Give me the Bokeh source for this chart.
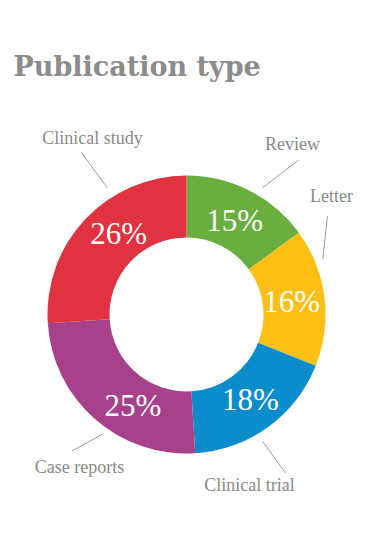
import math
from bokeh.plotting import figure
from bokeh.models import Range1d, ColumnDataSource
from bokeh.core.properties import value
from bokeh.embed import file_html
from bokeh.resources import INLINE

# ---- data ----
categories = ["Review", "Letter", "Clinical trial", "Case reports", "Clinical study"]
percents = [15, 16, 18, 25, 26]
colors = ["#6aae3f", "#fcbf14", "#0b8dcb", "#a8418b", "#e0323f"]
title_text = "Publication type"

# ---- layout ----
W, H = 358, 527
CX, CY = 186, H - 314
R_IN, R_OUT = 77, 139
R_LABEL = 106
label_angle_nudge = [0, 0, -1, -11, 7]          # degrees
# leader lines: (angle_inner, r_inner, angle_outer, r_outer) in degrees clockwise from top
leaders = [(31, 148, 36, 191), (68, 147, 55, 172), (149, 148, 148, 187),
           (215, 146, 220, 178), (328, 149, 327, 193)]
# category label anchors (x, baseline y) in picture coordinates
cat_pos = [(292, 143), (331, 195), (249, 484), (79, 466), (92, 137)]

def px(x):
    return x

def py(y):
    return H - y

p = figure(width=W, height=H, x_range=Range1d(0, W), y_range=Range1d(0, H),
           output_backend="svg", toolbar_location=None, min_border=0,
           x_axis_location=None, y_axis_location=None)
p.grid.visible = False
p.outline_line_color = None
p.background_fill_color = "white"

total = sum(percents)
starts, ends, mids = [], [], []
cum = 0
for v in percents:
    a0 = cum / total * 360
    cum += v
    a1 = cum / total * 360
    starts.append(math.radians(90 - a0))
    ends.append(math.radians(90 - a1))
    mids.append((a0 + a1) / 2)

src = ColumnDataSource(dict(start=starts, end=ends, color=colors,
                            x=[CX] * len(percents), y=[CY] * len(percents)))
p.annular_wedge(x="x", y="y", inner_radius=R_IN, outer_radius=R_OUT,
                start_angle="start", end_angle="end", direction="clock",
                fill_color="color", line_color=None, source=src)

# percent labels
lx, ly, lt = [], [], []
for m, nudge, v in zip(mids, label_angle_nudge, percents):
    a = math.radians(m + nudge)
    lx.append(CX + R_LABEL * math.sin(a))
    ly.append(CY + R_LABEL * math.cos(a))
    lt.append(f"{v}%")
p.text(x=lx, y=ly, text=lt, text_color="white", text_font=value("Liberation Serif"),
       text_font_size="31px", text_align="center", text_baseline="middle")

# leader lines
xs, ys = [], []
for a_in, r_in, a_out, r_out in leaders:
    ai, ao = math.radians(a_in), math.radians(a_out)
    xs.append([CX + r_in * math.sin(ai), CX + r_out * math.sin(ao)])
    ys.append([CY + r_in * math.cos(ai), CY + r_out * math.cos(ao)])
p.multi_line(xs=xs, ys=ys, line_color="#9a9a9a", line_width=1)

# category labels
p.text(x=[px(c[0]) for c in cat_pos], y=[py(c[1]) for c in cat_pos], text=categories,
       text_color="#8a8a8a", text_font=value("Liberation Serif"), text_font_size="18px",
       text_align="center", text_baseline="alphabetic")

# title
p.text(x=[px(13)], y=[py(66)], text=[title_text], text_color="#8c8c8c",
       text_font=value("DejaVu Serif"), text_font_style="bold", text_font_size="27px",
       text_align="left", text_baseline="alphabetic")

open("out.html", "w").write(file_html(p, INLINE))
